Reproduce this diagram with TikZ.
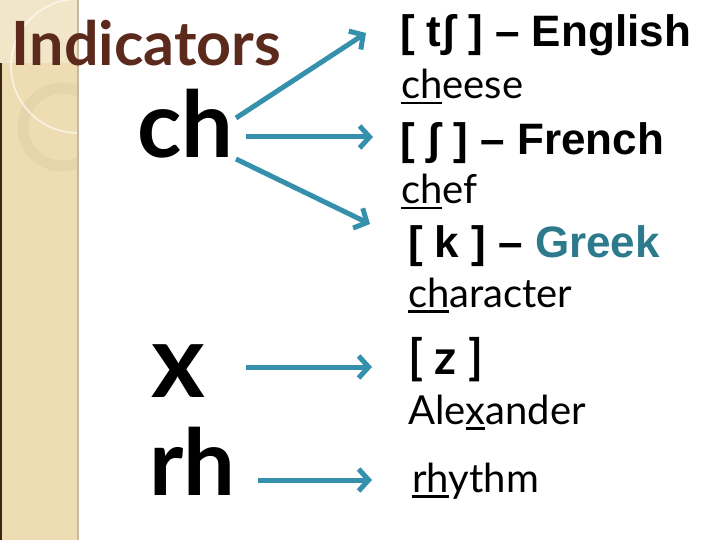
\documentclass[tikz,border=0pt]{standalone}
\usepackage{fontspec}
\setmainfont{Lato}
\newfontfamily\arialf{Liberation Sans}
\usetikzlibrary{arrows.meta}
\definecolor{stripbg}{HTML}{EEDDB3}
\definecolor{striptop}{HTML}{F2E6C8}
\definecolor{stripedge}{HTML}{C9B7A6}
\definecolor{ringc}{HTML}{E6D5AA}
\definecolor{brownt}{HTML}{5C2A1D}
\definecolor{arrowc}{HTML}{3591AB}
\definecolor{greekc}{HTML}{2C7A8C}
\newcommand\myul[1]{\setbox0\hbox{#1}\rlap{\rule[-5.5pt]{\wd0}{2.8pt}}\box0}
\tikzset{
  lbl/.style={anchor=base west, inner sep=0pt, outer sep=0pt},
  big/.style={lbl, font=\bfseries\fontsize{92}{92}\selectfont},
  bold/.style={lbl, font=\arialf\bfseries\fontsize{44}{44}\selectfont},
  word/.style={lbl, font=\fontsize{40}{40}\selectfont},
  arr/.style={draw=arrowc, line width=5pt, -{Straight Barb[length=10pt,width=22pt,line width=5pt]}},
}
\begin{document}
\begin{tikzpicture}[x=1pt,y=-1pt]
\useasboundingbox (0,0) rectangle (720,540);
\fill[white] (0,0) rectangle (720,540);
% left strip
\fill[stripbg] (0,0) rectangle (78,540);
\fill[striptop] (0,0) rectangle (78,63);
\begin{scope}
  \clip (0,0) rectangle (78,540);
  \draw[ringc, line width=11pt] (62,127) circle (39);
  \draw[white, opacity=0.6, line width=1.8pt] (78,66) circle (67);
\end{scope}
\draw[stripedge, line width=2pt] (78,0) -- (78,540);
\draw[black!70!brown, line width=2pt] (1,63) -- (1,540);
% left labels
\node[lbl, font=\bfseries\fontsize{61}{61}\selectfont, text=brownt] (ind) at (12,66) {Indicators};
\node[big] (ch) at (137,158) {ch};
\node[lbl, font=\bfseries\fontsize{103}{103}\selectfont] (x) at (151,397) {x};
\node[big] (rh) at (149,495) {rh};
% right labels
\node[bold] (eng) at (400,47) {[ tʃ ] – English};
\node[word] (cheese) at (401,99) {\myul{ch}eese};
\node[bold] (fre) at (400,155) {[ ʃ ] – French};
\node[word] (chef) at (401,204) {\myul{ch}ef};
\node[bold] (gre) at (408,258) {[ k ] – \textcolor{greekc}{Greek}};
\node[word] (charac) at (408,307) {\myul{ch}aracter};
\node[lbl, font=\bfseries\fontsize{48}{48}\selectfont] (z) at (408,374) {[ z ]};
\node[word] (alex) at (408,424) {Ale\myul{x}ander};
\node[word] (rhy) at (412,492) {\myul{rh}ythm};
% connector ends
\coordinate (chA) at (236,118);
\coordinate (chB) at (246,137);
\coordinate (chC) at (236,159);
\coordinate (xA) at (246,367);
\coordinate (rhA) at (258,480);
\coordinate (tEng) at (366,33);
\coordinate (tFre) at (373,137);
\coordinate (tGre) at (370,224);
\coordinate (tZ) at (372,367);
\coordinate (tRhy) at (372,480);
\draw[arr] (chA) -- (tEng);
\draw[arr] (chB) -- (tFre);
\draw[arr] (chC) -- (tGre);
\draw[arr] (xA) -- (tZ);
\draw[arr] (rhA) -- (tRhy);
\end{tikzpicture}
\end{document}
